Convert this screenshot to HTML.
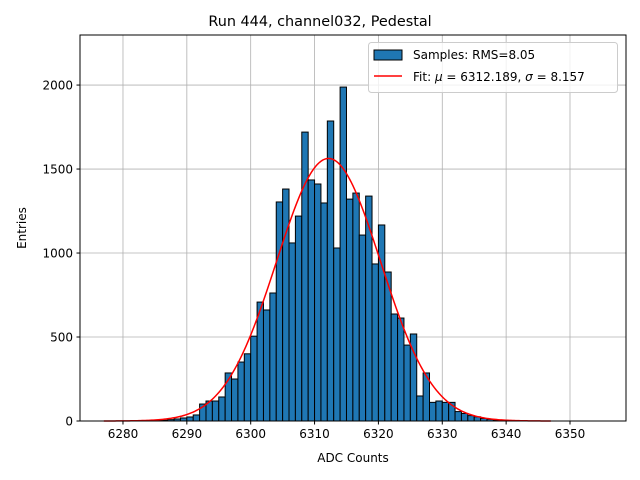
<!DOCTYPE html>
<html><head><meta charset="utf-8"><style>
body{margin:0;background:#fff;}
svg{display:block;font-family:"DejaVu Sans","Liberation Sans",sans-serif;}
</style></head><body>
<svg id="c" width="640" height="480" viewBox="0 0 640 480">
<rect width="640" height="480" fill="#fff"/>
<g id="grid"></g><g id="bars"></g><g id="fit"></g>
<rect x="80" y="35" width="546" height="386" fill="none" stroke="#000" stroke-width="1"/>
<g id="ticks" font-size="12" fill="#000"></g>
<text x="320" y="26" text-anchor="middle" font-size="14.4">Run 444, channel032, Pedestal</text>
<text x="353" y="462" text-anchor="middle" font-size="12">ADC Counts</text>
<text x="26" y="228" text-anchor="middle" font-size="12" transform="rotate(-90 26 228)">Entries</text>
<g>
<rect x="368.5" y="42.5" width="249" height="50" rx="3" fill="#fff" fill-opacity="0.8" stroke="#ccc"/>
<rect x="374" y="50" width="28" height="10" fill="#1f77b4" stroke="#000"/>
<text x="413" y="59" font-size="12">Samples: RMS=8.05</text>
<line x1="374" y1="76" x2="402" y2="76" stroke="red" stroke-width="1.5"/>
<text x="413" y="81" font-size="12">Fit: <tspan font-style="italic">μ</tspan> = 6312.189, <tspan font-style="italic">σ</tspan> = 8.157</text>
</g>
</svg>
<script>
const binStarts=[6283,6284,6285,6286,6287,6288,6289,6290,6291,6292,6293,6294,6295,6296,6297,6298,6299,6300,6301,6302,6303,6304,6305,6306,6307,6308,6309,6310,6311,6312,6313,6314,6315,6316,6317,6318,6319,6320,6321,6322,6323,6324,6325,6326,6327,6328,6329,6330,6331,6332,6333,6334,6335,6336,6337,6338];
const counts=[2,2,3,5,8,12,18,24,36,101,119,119,143,286,250,351,400,505,708,661,762,1304,1381,1060,1220,1720,1435,1411,1298,1786,1030,1988,1321,1357,1107,1339,935,1167,887,637,613,452,518,149,286,111,119,111,111,56,45,32,25,15,10,5];
const xTicks=[6280,6290,6300,6310,6320,6330,6340,6350];
const yTicks=[0,500,1000,1500,2000];
const fitMu=6312.189, fitSigma=8.157, fitAmp=1563, fitRange=[6277,6347];
const X=v=>80+(v-6273.27)*(546/85.5);
const Y=v=>421-v*(386/2298);
const NS='http://www.w3.org/2000/svg';
function mk(t,a,p){const e=document.createElementNS(NS,t);for(const k in a)e.setAttribute(k,a[k]);p.appendChild(e);return e;}
const grid=document.getElementById('grid'),ticks=document.getElementById('ticks'),bars=document.getElementById('bars'),fit=document.getElementById('fit');
xTicks.forEach(v=>{const x=X(v);
const g=mk('line',{x1:x,x2:x,y1:35,y2:421,stroke:'#b0b0b0','stroke-width':0.8},grid);


mk('line',{x1:x,x2:x,y1:421,y2:424.5,stroke:'#000'},ticks);
const t=mk('text',{x:x,y:438,'text-anchor':'middle'},ticks);t.textContent=v;

});
yTicks.forEach(v=>{const y=Y(v);
const g=mk('line',{x1:80,x2:626,y1:y,y2:y,stroke:'#b0b0b0','stroke-width':0.8},grid);


mk('line',{x1:76.5,x2:80,y1:y,y2:y,stroke:'#000'},ticks);
const t=mk('text',{x:73,y:y+4.5,'text-anchor':'end'},ticks);t.textContent=v;

});
binStarts.forEach((b,i)=>{const x0=X(b),x1=X(b+1),y=Y(counts[i]);
const r=mk('rect',{x:x0,y:y,width:x1-x0,height:421-y,fill:'#1f77b4',stroke:'#000','stroke-width':1},bars);

});
let d='';for(let v=fitRange[0];v<=fitRange[1];v+=0.25){const c=fitAmp*Math.exp(-0.5*((v-fitMu)/fitSigma)**2);d+=(d?'L':'M')+X(v).toFixed(2)+','+Y(c).toFixed(2);}
const p=mk('path',{d:d,fill:'none',stroke:'red','stroke-width':1.5},fit);


</script>
</body></html>
